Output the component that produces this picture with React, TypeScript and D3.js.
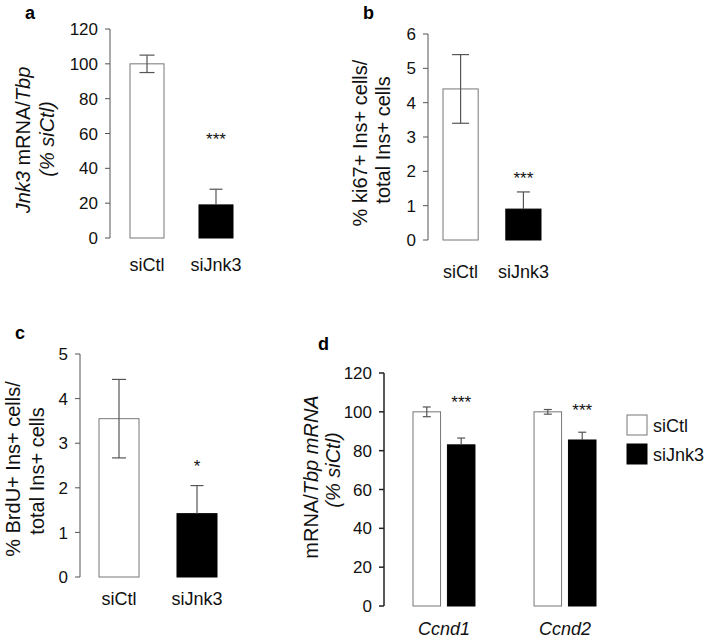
import React from 'react';
import * as d3 from 'd3';

const groups = ['siCtl', 'siJnk3'];

const aValues = [100, 19];
const aErr = [5, 9];
const aTicks = [0, 20, 40, 60, 80, 100, 120];

const bValues = [4.4, 0.9];
const bErr = [1.0, 0.5];
const bTicks = [0, 1, 2, 3, 4, 5, 6];

const cValues = [3.55, 1.42];
const cErr = [0.88, 0.63];
const cTicks = [0, 1, 2, 3, 4, 5];

const genes = ['Ccnd1', 'Ccnd2'];
const dCtl = [100, 100];
const dCtlErr = [2.5, 1.2];
const dJnk = [83, 85.5];
const dJnkErr = [3.5, 4];
const dTicks = [0, 20, 40, 60, 80, 100, 120];

const aStars = ['', '***'];
const bStars = ['', '***'];
const cStars = ['', '*'];
const dStars = ['***', '***'];

const FONT = 'Liberation Sans, Arial, sans-serif';
const AXIS = '#555';
const ERR = '#555';

function YAxis({x, y, ticks, color = AXIS, width = 1}: any) {
  const [lo, hi] = y.domain();
  return (
    <g>
      <line x1={x} x2={x} y1={y(lo)} y2={y(hi)} stroke={color} strokeWidth={width}/>
      {ticks.map((t: number) => (
        <g key={t}>
          <line x1={x - 5} x2={x} y1={y(t)} y2={y(t)} stroke={color} strokeWidth={width}/>
          <text x={x - 12} y={y(t)} dy="0.36em" textAnchor="end" fontSize={17} fill="#111">{t}</text>
        </g>
      ))}
    </g>
  );
}

function ErrBar({cx, y, v, e, cap, both}: any) {
  const top = y(v + e);
  const bot = both ? y(v - e) : y(v);
  return (
    <g stroke={ERR} strokeWidth={1.2}>
      <line x1={cx} x2={cx} y1={top} y2={bot}/>
      <line x1={cx - cap / 2} x2={cx + cap / 2} y1={top} y2={top}/>
      {both && <line x1={cx - cap / 2} x2={cx + cap / 2} y1={bot} y2={bot}/>}
    </g>
  );
}

function YLabel({cx, cy, children}: any) {
  return (
    <text transform={`translate(${cx},${cy}) rotate(-90)`} textAnchor="middle" dy="0.35em" fontSize={20} fill="#111">
      {children}
    </text>
  );
}

function SimplePanel({axisX, y, ticks, xRange, pad, values, errs, caps, stars, starDy, labelY}: any) {
  const x = d3.scaleBand().domain(groups).range(xRange).paddingInner(pad).paddingOuter(0);
  return (
    <g>
      <YAxis x={axisX} y={y} ticks={ticks}/>
      {groups.map((g, i) => {
        const x0 = x(g)!;
        const bw = x.bandwidth();
        const cx = x0 + bw / 2;
        return (
          <g key={g}>
            <rect x={x0} y={y(values[i])} width={bw} height={y(0) - y(values[i])}
                  fill={i === 0 ? '#fff' : '#000'} stroke={i === 0 ? '#777' : '#000'} strokeWidth={1}/>
            <ErrBar cx={cx} y={y} v={values[i]} e={errs[i]} cap={caps[i]} both={i === 0}/>
            {stars[i] && (
              <text x={cx} y={y(values[i] + errs[i]) - starDy} textAnchor="middle" fontSize={17} fill="#111">{stars[i]}</text>
            )}
            <text x={cx} y={labelY} textAnchor="middle" fontSize={18} fill="#111">{g}</text>
          </g>
        );
      })}
    </g>
  );
}

export default function App() {
  const yA = d3.scaleLinear().domain([0, 120]).range([238, 29]);
  const yB = d3.scaleLinear().domain([0, 6]).range([240, 34]);
  const yC = d3.scaleLinear().domain([0, 5]).range([577, 354]);
  const yD = d3.scaleLinear().domain([0, 120]).range([606, 373]);

  const xD = d3.scaleBand().domain(genes).range([413, 596]).paddingInner(0.488).paddingOuter(0);
  const xDi = d3.scaleBand().domain(groups).range([0, xD.bandwidth()]).paddingInner(0.2).paddingOuter(0);
  const dVals = [dCtl, dJnk];
  const dErrs = [dCtlErr, dJnkErr];

  return (
    <svg width={709} height={641} style={{position: 'absolute', left: 0, top: 0, background: '#fff'}} fontFamily={FONT}>
      <rect width={709} height={641} fill="#fff"/>

      {/* a */}
      <text x={25} y={19} fontSize={18} fontWeight="bold">a</text>
      <YLabel cx={23} cy={140}>
        <tspan fontStyle="italic">Jnk3</tspan> mRNA/<tspan fontStyle="italic">Tbp</tspan>
      </YLabel>
      <YLabel cx={47} cy={139}><tspan fontStyle="italic">(% siCtl)</tspan></YLabel>
      <SimplePanel axisX={110} y={yA} ticks={aTicks} xRange={[130, 233]} pad={0.507}
                   values={aValues} errs={aErr} caps={[15, 13]} stars={aStars} starDy={44} labelY={271}/>

      {/* b */}
      <text x={363} y={19} fontSize={18} fontWeight="bold">b</text>
      <YLabel cx={360} cy={143}>% ki67+ Ins+ cells/</YLabel>
      <YLabel cx={383} cy={140}>total Ins+ cells</YLabel>
      <SimplePanel axisX={428} y={yB} ticks={bTicks} xRange={[443, 541]} pad={0.44}
                   values={bValues} errs={bErr} caps={[17, 13]} stars={bStars} starDy={8} labelY={278}/>

      {/* c */}
      <text x={15} y={339} fontSize={18} fontWeight="bold">c</text>
      <YLabel cx={13} cy={469}>% BrdU+ Ins+ cells/</YLabel>
      <YLabel cx={37} cy={471}>total Ins+ cells</YLabel>
      <SimplePanel axisX={80} y={yC} ticks={cTicks} xRange={[99, 217]} pad={0.487}
                   values={cValues} errs={cErr} caps={[14, 13]} stars={cStars} starDy={14} labelY={605}/>

      {/* d */}
      <text x={318} y={350} fontSize={18} fontWeight="bold">d</text>
      <YLabel cx={311} cy={477}>
        mRNA/<tspan fontStyle="italic">Tbp mRNA</tspan>
      </YLabel>
      <YLabel cx={333} cy={470}><tspan fontStyle="italic">(% siCtl)</tspan></YLabel>
      <YAxis x={384} y={yD} ticks={dTicks} color="#222" width={1.5}/>
      {genes.map((g, gi) => {
        const gx = xD(g)!;
        return (
          <g key={g}>
            {groups.map((s, si) => {
              const x0 = gx + xDi(s)!;
              const bw = xDi.bandwidth();
              const v = dVals[si][gi];
              return (
                <g key={s}>
                  <rect x={x0} y={yD(v)} width={bw} height={yD(0) - yD(v)}
                        fill={si === 0 ? '#fff' : '#000'} stroke={si === 0 ? '#777' : '#000'} strokeWidth={1}/>
                  <ErrBar cx={x0 + bw / 2} y={yD} v={v} e={dErrs[si][gi]} cap={8} both={si === 0}/>
                </g>
              );
            })}
            <text x={gx + xDi('siJnk3')! + xDi.bandwidth() / 2} y={gi === 0 ? 408 : 416}
                  textAnchor="middle" fontSize={17} fill="#111">{dStars[gi]}</text>
            <text x={gx + xD.bandwidth() / 2} y={635} textAnchor="middle" fontSize={18} fontStyle="italic" fill="#111">{g}</text>
          </g>
        );
      })}
      {/* legend */}
      {groups.map((s, i) => (
        <g key={s}>
          <rect x={627} y={415 + i * 29} width={20} height={20}
                fill={i === 0 ? '#fff' : '#000'} stroke={i === 0 ? '#777' : '#000'}/>
          <text x={653} y={432 + i * 29} fontSize={18} fill="#111">{s}</text>
        </g>
      ))}
    </svg>
  );
}
